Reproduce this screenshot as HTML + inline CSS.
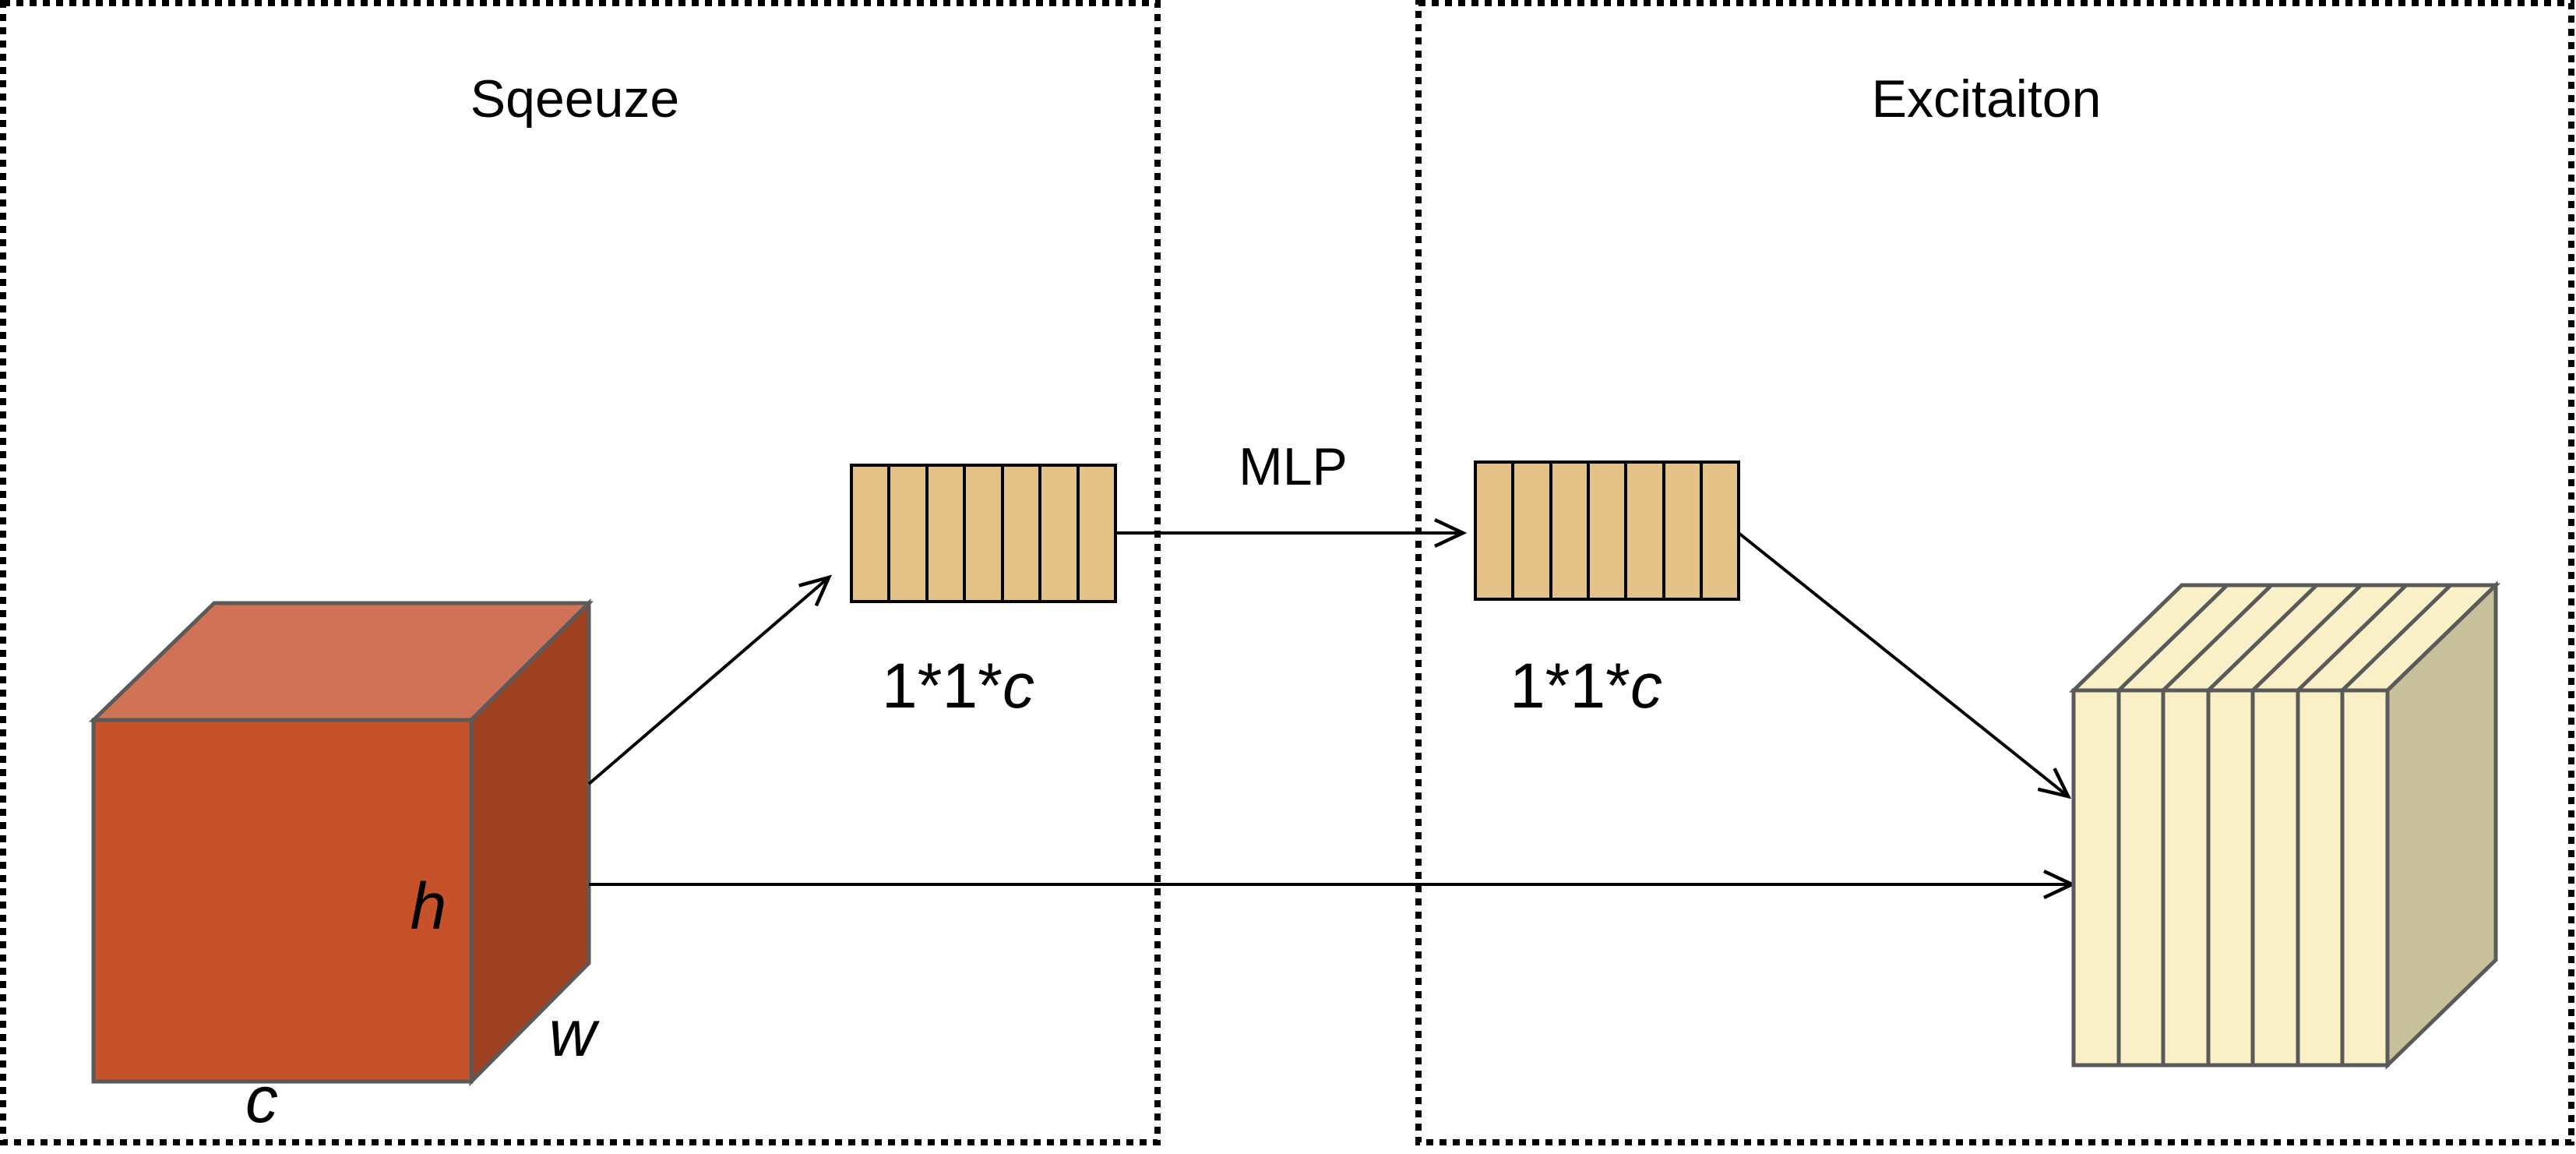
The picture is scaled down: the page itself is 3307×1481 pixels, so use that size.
<!DOCTYPE html>
<html><head><style>body{margin:0;background:#fff}svg{display:block}</style></head><body>
<svg width="3307" height="1481" viewBox="0 0 3307 1481" xmlns="http://www.w3.org/2000/svg">
<defs><marker id="a" markerWidth="50" markerHeight="50" refX="42" refY="25" orient="auto" markerUnits="userSpaceOnUse"><path d="M6,8 L42,25 L6,42" fill="none" stroke="#000" stroke-width="4.5"/></marker></defs>
<g fill="none" stroke="#000" stroke-width="8" stroke-dasharray="9,8">
<rect x="4" y="4" width="1482" height="1462"/>
<rect x="1821" y="4" width="1480" height="1462"/>
</g>
<g font-family="Liberation Sans, sans-serif" font-size="68" text-anchor="middle" fill="#000">
<text x="738" y="150">Sqeeuze</text>
<text x="2550" y="150">Excitaiton</text>
<text x="1660" y="622">MLP</text>
</g>
<g font-family="Liberation Sans, sans-serif" font-size="82" text-anchor="middle" fill="#000">
<text x="1230" y="908">1*1*<tspan font-style="italic">c</tspan></text>
<text x="2036" y="908">1*1*<tspan font-style="italic">c</tspan></text>
</g>
<!-- red cube -->
<g stroke="#5a5a5a" stroke-width="5" stroke-linejoin="miter">
<polygon points="120,924 275,774 756,774 605,924" fill="#D07255"/>
<polygon points="605,924 756,774 756,1236 605,1388" fill="#A04022"/>
<rect x="120" y="924" width="485" height="464" fill="#C5522A"/>
</g>
<g font-family="Liberation Sans, sans-serif" font-size="84" font-style="italic" fill="#000" text-anchor="middle">
<text x="550" y="1192">h</text>
<text x="735" y="1355">w</text>
<text x="336" y="1440">c</text>
</g>
<!-- arrows -->
<g stroke="#000" stroke-width="4" fill="none">
<line x1="756" y1="1006" x2="1064" y2="741" marker-end="url(#a)"/>
<line x1="756" y1="1135" x2="2660" y2="1135" marker-end="url(#a)"/>
<line x1="1432" y1="684" x2="1878" y2="684" marker-end="url(#a)"/>
<line x1="2232" y1="684" x2="2655" y2="1022" marker-end="url(#a)"/>
</g>
<!-- bars -->
<g stroke="#000" stroke-width="4" fill="#E3C187">
<rect x="1093" y="597" width="339" height="175"/>
<rect x="1894" y="593" width="338" height="176"/>
</g>
<g stroke="#000" stroke-width="4">
<line x1="1141" y1="597" x2="1141" y2="772"/><line x1="1190" y1="597" x2="1190" y2="772"/><line x1="1238" y1="597" x2="1238" y2="772"/><line x1="1287" y1="597" x2="1287" y2="772"/><line x1="1335" y1="597" x2="1335" y2="772"/><line x1="1384" y1="597" x2="1384" y2="772"/>
<line x1="1942" y1="593" x2="1942" y2="769"/><line x1="1991" y1="593" x2="1991" y2="769"/><line x1="2039" y1="593" x2="2039" y2="769"/><line x1="2087" y1="593" x2="2087" y2="769"/><line x1="2136" y1="593" x2="2136" y2="769"/><line x1="2184" y1="593" x2="2184" y2="769"/>
</g>
<!-- layered cube -->
<g stroke="#5a5a5a" stroke-width="5">
<polygon points="2662,886 2801,751 3204,751 3065,886" fill="#FAF0C8"/>
<polygon points="3065,886 3204,751 3204,1232 3065,1367" fill="#C8C09A"/>
<rect x="2662" y="886" width="403" height="481" fill="#FAF0C8"/>
<g fill="none">
<path d="M2720,886 L2859,751 M2777,886 L2916,751 M2835,886 L2974,751 M2892,886 L3031,751 M2950,886 L3089,751 M3007,886 L3146,751"/>
<path d="M2720,886 V1367 M2777,886 V1367 M2835,886 V1367 M2892,886 V1367 M2950,886 V1367 M3007,886 V1367"/>
</g>
</g>
</svg>
</body></html>
